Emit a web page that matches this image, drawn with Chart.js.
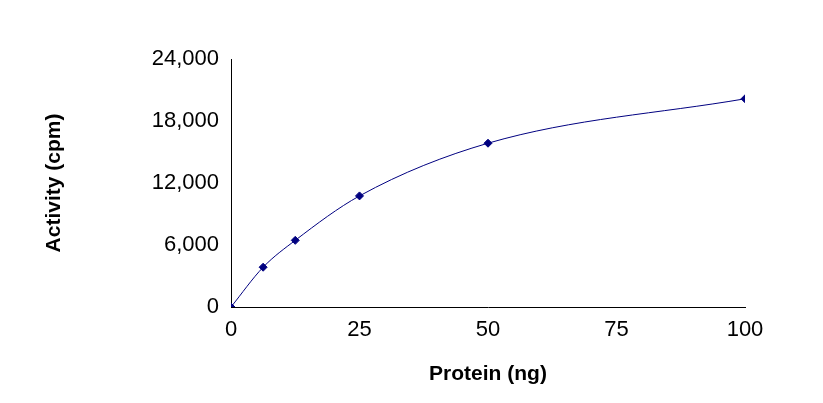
<!DOCTYPE html>
<html>
<head>
<script src="https://cdn.jsdelivr.net/npm/chart.js@4"></script>
<style>body{margin:0;background:#fff}#wrap{width:823px;height:403px}</style>
</head>
<body>
<div id="wrap"><canvas id="c"></canvas></div>
<script>
const protein = [0, 6.25, 12.5, 25, 50, 100];
const activity = [0, 3850, 6450, 10750, 15850, 20150];
const yTicks = [0, 6000, 12000, 18000, 24000];
const xTicks = [0, 25, 50, 75, 100];

const font = {family: 'Liberation Sans, Arial, sans-serif', size: 22};
new Chart(document.getElementById('c'), {
    type: 'scatter',
    data: {
        datasets: [{
            data: protein.map((p, i) => ({x: p, y: activity[i]})),
            showLine: true,
            cubicInterpolationMode: 'monotone',
            borderColor: '#000080',
            borderWidth: 1,
            backgroundColor: '#000080',
            pointStyle: 'rectRot',
            pointRadius: 4
        }]
    },
    options: {
        responsive: true,
        maintainAspectRatio: false,
        animation: false,
        layout: {padding: {top: 59, right: 78, left: 38, bottom: 12}},
        plugins: {legend: {display: false}, tooltip: {enabled: false}},
        scales: {
            x: {
                type: 'linear', min: 0, max: 100,
                afterBuildTicks: s => { s.ticks = xTicks.map(v => ({value: v})); },
                afterFit: s => { s.height = 84; },
                grid: {display: false, tickLength: 6},
                border: {color: '#000', width: 1},
                ticks: {color: '#000', font: font, padding: 4},
                title: {display: true, text: 'Protein (ng)', color: '#000',
                        font: {family: font.family, size: 21, weight: 'bold'}, padding: {top: 6}}
            },
            y: {
                min: 0, max: 24000,
                afterBuildTicks: s => { s.ticks = yTicks.map(v => ({value: v})); },
                afterFit: s => { s.width = 193; },
                grid: {display: false, tickLength: 6},
                border: {color: '#000', width: 1},
                ticks: {color: '#000', font: font, padding: 6,
                        callback: v => v.toLocaleString('en-US')},
                title: {display: true, text: 'Activity (cpm)', color: '#000',
                        font: {family: font.family, size: 21, weight: 'bold'}, padding: {bottom: 6}}
            }
        }
    }
});
</script>
</body>
</html>
